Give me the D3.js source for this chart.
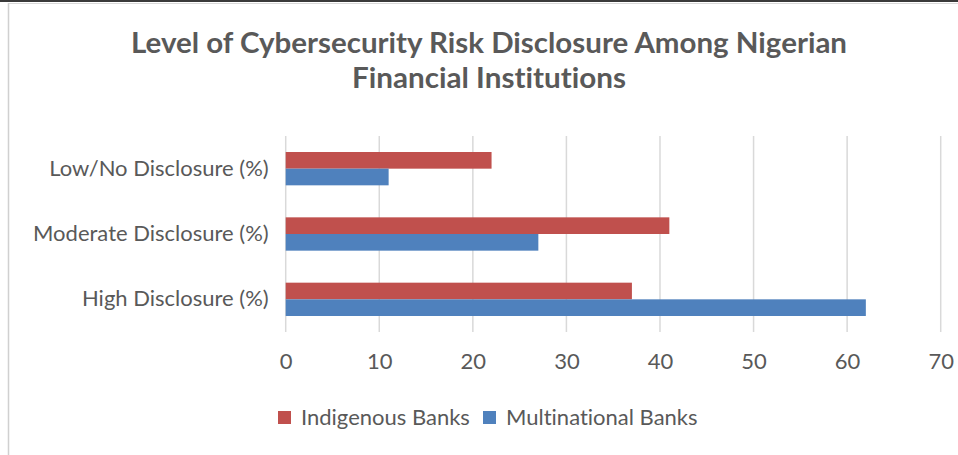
<!DOCTYPE html>
<html>
<head>
<meta charset="utf-8">
<script src="https://cdn.jsdelivr.net/npm/d3@7"></script>
<style>
  html, body { margin: 0; padding: 0; background: #fff; }
  svg { display: block; }
  text { font-variant-ligatures: none; font-feature-settings: "liga" 0; }
</style>
</head>
<body>
<svg id="chart" width="958" height="455"></svg>
<script>
// Chart data
const categories = ["Low/No Disclosure (%)", "Moderate Disclosure (%)", "High Disclosure (%)"];
const seriesNames = ["Indigenous Banks", "Multinational Banks"];
const indigenous = [22, 41, 37];
const multinational = [11, 27, 62];
const tickValues = [0, 10, 20, 30, 40, 50, 60, 70];

const colors = { "Indigenous Banks": "#C0504D", "Multinational Banks": "#4F81BD" };
const textColor = "#595959";
const font = "Lato, 'Open Sans', sans-serif";

const svg = d3.select("#chart");

// Frame: dark strip at the top, light border around the chart area
svg.append("rect").attr("x", 0).attr("y", 0).attr("width", 958).attr("height", 2).attr("fill", "#3a3a3a");
svg.append("line").attr("x1", 8.5).attr("x2", 958).attr("y1", 3.5).attr("y2", 3.5)
  .attr("stroke", "#d9d9d9").attr("stroke-width", 1);
svg.append("line").attr("x1", 8.5).attr("x2", 8.5).attr("y1", 3).attr("y2", 455)
  .attr("stroke", "#d0d0d0").attr("stroke-width", 1.5);

// Title
const title = svg.append("text")
  .attr("text-anchor", "middle")
  .attr("font-family", font)
  .attr("font-weight", "bold")
  .attr("font-size", 29)
  .attr("fill", textColor);
title.append("tspan").attr("x", 489).attr("y", 53)
  .attr("textLength", 716).attr("lengthAdjust", "spacingAndGlyphs")
  .text("Level of Cybersecurity Risk Disclosure Among Nigerian");
title.append("tspan").attr("x", 489).attr("y", 88)
  .attr("textLength", 274).attr("lengthAdjust", "spacingAndGlyphs")
  .text("Financial Institutions");

// Scales
const x = d3.scaleLinear().domain([0, 70]).range([285.7, 940.7]);
const y = d3.scaleBand().domain(categories).range([136, 332]).paddingInner(0.49).paddingOuter(0.245);
const ySub = d3.scaleBand().domain(seriesNames).range([0, y.bandwidth()]);

// Vertical gridlines
svg.append("g")
  .selectAll("line")
  .data(tickValues)
  .join("line")
  .attr("x1", d => x(d)).attr("x2", d => x(d))
  .attr("y1", 136).attr("y2", 332)
  .attr("stroke", "#d9d9d9").attr("stroke-width", 1.5);

// Bars
const rows = categories.map((c, i) => ({
  category: c,
  values: [
    { series: "Indigenous Banks", value: indigenous[i] },
    { series: "Multinational Banks", value: multinational[i] }
  ]
}));

svg.append("g")
  .selectAll("g")
  .data(rows)
  .join("g")
  .attr("transform", d => `translate(0,${y(d.category)})`)
  .selectAll("rect")
  .data(d => d.values)
  .join("rect")
  .attr("x", x(0))
  .attr("y", d => ySub(d.series))
  .attr("width", d => x(d.value) - x(0))
  .attr("height", ySub.bandwidth())
  .attr("fill", d => colors[d.series]);

// Category axis (labels only)
const yAxis = svg.append("g")
  .attr("transform", `translate(${x(0)},0)`)
  .call(d3.axisLeft(y).tickSize(0).tickPadding(17));
yAxis.select(".domain").remove();
yAxis.selectAll("text")
  .attr("font-family", font).attr("font-size", 22).attr("fill", textColor);

// Value axis (labels only)
const xAxis = svg.append("g")
  .attr("transform", "translate(0,332)")
  .call(d3.axisBottom(x).tickValues(tickValues).tickSize(0).tickPadding(21));
xAxis.select(".domain").remove();
xAxis.selectAll("text")
  .attr("font-family", font).attr("font-size", 22).attr("fill", textColor);

// Legend
const legendItems = [
  { name: "Indigenous Banks", x: 278 },
  { name: "Multinational Banks", x: 483 }
];
const legend = svg.append("g").selectAll("g").data(legendItems).join("g")
  .attr("transform", d => `translate(${d.x},411)`);
legend.append("rect").attr("width", 13).attr("height", 13).attr("fill", d => colors[d.name]);
legend.append("text")
  .attr("x", 23).attr("y", 6.5).attr("dy", "0.35em")
  .attr("font-family", font).attr("font-size", 22).attr("fill", textColor)
  .text(d => d.name);
</script>
</body>
</html>
